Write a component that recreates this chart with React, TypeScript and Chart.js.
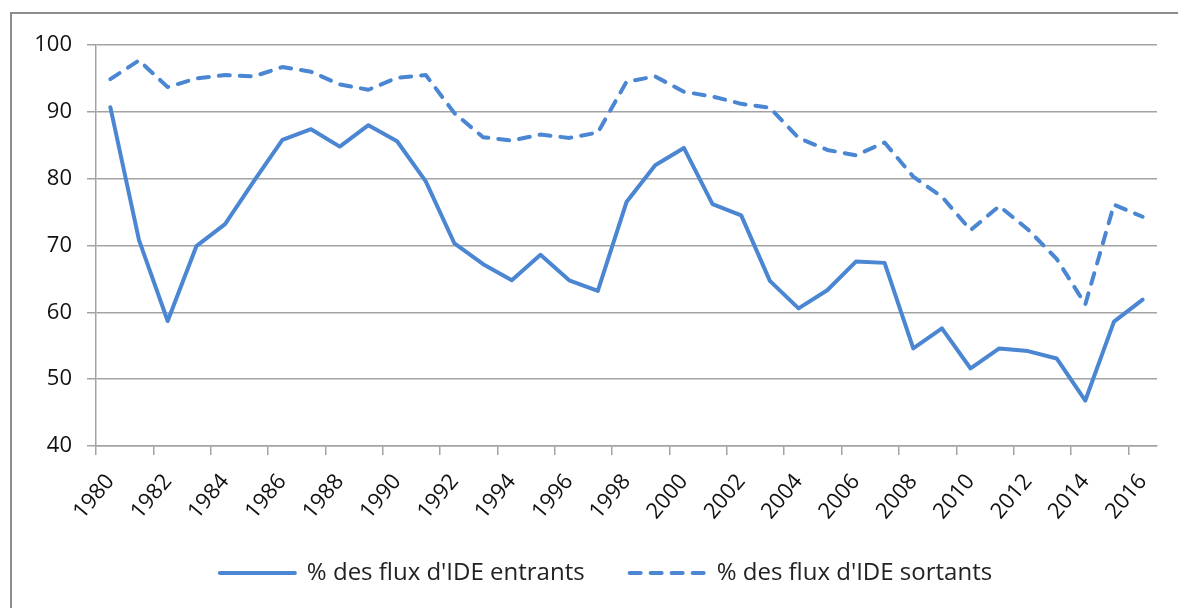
import React, { useEffect, useRef } from "react";
import { Chart, registerables } from "chart.js";

Chart.register(...registerables);

const years: string[] = [];
for (let y = 1980; y <= 2016; y++) years.push(String(y));

const entrants = [
  90.7, 70.8, 58.7, 69.9, 73.2, 79.6, 85.8, 87.4, 84.8, 88.0,
  85.6, 79.6, 70.3, 67.2, 64.8, 68.6, 64.8, 63.2, 76.5, 82.0,
  84.6, 76.2, 74.5, 64.7, 60.6, 63.3, 67.6, 67.4, 54.6, 57.6,
  51.6, 54.6, 54.2, 53.1, 46.8, 58.6, 61.9,
];

const sortants = [
  94.9, 97.7, 93.7, 95.0, 95.5, 95.3, 96.7, 96.0, 94.1, 93.3,
  95.1, 95.5, 89.8, 86.2, 85.7, 86.6, 86.1, 86.9, 94.5, 95.3,
  93.0, 92.3, 91.2, 90.6, 86.1, 84.3, 83.5, 85.4, 80.3, 77.3,
  72.3, 75.9, 72.4, 68.0, 61.2, 76.1, 74.3,
];

const yTicks = [40, 50, 60, 70, 80, 90, 100];

const seriesNames = ["% des flux d'IDE entrants", "% des flux d'IDE sortants"];

const BLUE = "#4a86d1";
const GRID = "#a3a3a3";
const FONT = "'Open Sans', Lato, sans-serif";

export default function App() {
  const ref = useRef<HTMLCanvasElement | null>(null);

  useEffect(() => {
    if (!ref.current) return;
    const chart = new Chart(ref.current, {
      type: "line",
      data: {
        labels: years,
        datasets: [
          {
            label: seriesNames[0],
            data: entrants,
            borderColor: BLUE,
            backgroundColor: BLUE,
            borderWidth: 4,
            pointRadius: 0,
            tension: 0,
            borderJoinStyle: "round",
            borderCapStyle: "round",
          },
          {
            label: seriesNames[1],
            data: sortants,
            borderColor: BLUE,
            backgroundColor: BLUE,
            borderWidth: 4,
            borderDash: [11, 10],
            borderCapStyle: "round",
            borderJoinStyle: "round",
            pointRadius: 0,
            tension: 0,
          },
        ],
      },
      options: {
        animation: false,
        responsive: false,
        devicePixelRatio: 1,
        layout: { padding: { left: 55, right: 21, top: 45, bottom: 13 } },
        plugins: {
          tooltip: { enabled: false },
          legend: {
            position: "bottom",
            labels: {
              usePointStyle: true,
              pointStyle: "line",
              pointStyleWidth: 75,
              boxHeight: 22,
              padding: 45,
              color: "#222",
              font: { family: FONT, size: 24 },
              generateLabels: (c: any) => {
                const items = Chart.defaults.plugins.legend.labels.generateLabels(c);
                return items.map((it: any, i: number) => {
                  const ds: any = c.data.datasets[i];
                  return {
                    ...it,
                    lineDash: ds.borderDash || [],
                    lineWidth: ds.borderWidth,
                    lineCap: "round",
                    strokeStyle: ds.borderColor,
                    fillStyle: ds.borderColor,
                    pointStyle: "line",
                  };
                });
              },
            },
          },
        },
        scales: {
          x: {
            type: "category",
            offset: true,
            afterFit: (scale: any) => {
              scale.height = 70;
              // let the rotated labels spill below the axis box (into the legend's padding)
              scale._computeLabelArea = () => undefined;
            },
            grid: {
              display: true,
              offset: true,
              drawOnChartArea: false,
              drawTicks: true,
              tickLength: 9,
              lineWidth: 1.5,
              color: (ctx: any) => (ctx.index % 2 === 0 ? GRID : "rgba(0,0,0,0)"),
            },
            border: { display: true, color: GRID, width: 1.5 },
            ticks: {
              autoSkip: false,
              maxRotation: 50,
              minRotation: 50,
              padding: 14,
              color: "#111",
              font: { family: FONT, size: 22 },
              callback: (_v: any, i: number) => (i % 2 === 0 ? years[i] : ""),
            },
          },
          y: {
            min: 40,
            max: 100,
            afterFit: (scale: any) => {
              scale.width = 41;
              scale._computeLabelArea = () => undefined;
            },
            afterBuildTicks: (scale: any) => {
              scale.ticks = yTicks.map((v) => ({ value: v }));
            },
            grid: {
              color: GRID,
              lineWidth: 1.5,
              drawTicks: true,
              tickLength: 9,
            },
            border: { display: true, color: GRID, width: 1.5 },
            ticks: {
              padding: 15,
              color: "#111",
              font: { family: FONT, size: 22 },
            },
          },
        },
      },
    });
    return () => chart.destroy();
  }, []);

  return (
    <>
      <div
        style={{
          position: "fixed",
          left: 10,
          top: 12,
          width: 1300,
          height: 800,
          borderTop: "2px solid #8c8c8c",
          borderLeft: "2px solid #8c8c8c",
          background: "#fff",
        }}
      />
      <div style={{ position: "fixed", left: 0, top: 0, width: 1178, height: 608 }}>
        <canvas ref={ref} width={1178} height={608} style={{ display: "block" }} />
      </div>
    </>
  );
}
